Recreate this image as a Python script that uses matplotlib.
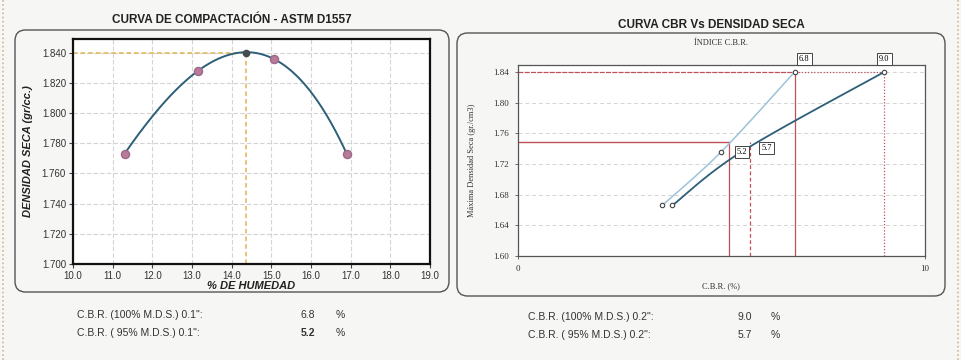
import numpy as np
import matplotlib
matplotlib.use("Agg")
import matplotlib.pyplot as plt
from matplotlib.patches import FancyBboxPatch
from matplotlib.lines import Line2D

# --- Proctor compaction data ---
humedad = [11.3, 13.15, 15.06, 16.9]
densidad = [1.773, 1.828, 1.836, 1.773]
humedad_optima = 14.37
densidad_maxima = 1.840
x_ticks_humedad = [10.0, 11.0, 12.0, 13.0, 14.0, 15.0, 16.0, 17.0, 18.0, 19.0]
y_ticks_densidad = [1.700, 1.720, 1.740, 1.760, 1.780, 1.800, 1.820, 1.840]

# --- CBR vs dry density data ---
densidad_cbr = [1.666, 1.736, 1.840]
cbr_01 = [3.55, 5.0, 6.8]
cbr_02 = [3.8, 5.5, 9.0]
cbr100_01, cbr95_01 = 6.8, 5.2
cbr100_02, cbr95_02 = 9.0, 5.7
y_ticks_cbr = [1.60, 1.64, 1.68, 1.72, 1.76, 1.80, 1.84]

BG = "#f6f6f4"
DARK = "#2d5f78"
LIGHT = "#9cc3d8"
RED = "#c0505a"
GRID = "#d4d4d4"


def smooth(xs, ys, n=40):
    """Excel-style smoothed line: cubic Bezier through the points."""
    p = np.column_stack([xs, ys]).astype(float)
    ext = np.vstack([p[0], p, p[-1]])
    out = []
    t = np.linspace(0, 1, n)[:, None]
    for i in range(1, len(ext) - 2):
        p0, p1 = ext[i], ext[i + 1]
        c1 = p0 + (ext[i + 1] - ext[i - 1]) / 6.0
        c2 = p1 - (ext[i + 2] - ext[i]) / 6.0
        seg = ((1 - t) ** 3) * p0 + 3 * ((1 - t) ** 2) * t * c1 + 3 * (1 - t) * t ** 2 * c2 + t ** 3 * p1
        out.append(seg)
    out = np.vstack(out)
    return out[:, 0], out[:, 1]


fig = plt.figure(figsize=(9.61, 3.60), dpi=100, facecolor=BG)
plt.rcParams["font.family"] = ["Liberation Sans", "DejaVu Sans"]

# page border marks
for xf in (0.003, 0.997):
    fig.add_artist(Line2D([xf, xf], [0, 1], transform=fig.transFigure,
                          color="#d8b68a", lw=1.2, ls=(0, (1, 1.5))))

# rounded frames around each chart
for (x0, y0, x1, y1) in [(15, 30, 449, 292), (457, 33, 945, 296)]:
    box = FancyBboxPatch((x0 / 961, 1 - y1 / 360), (x1 - x0) / 961, (y1 - y0) / 360,
                         boxstyle="round,pad=0,rounding_size=0.011",
                         transform=fig.transFigure, facecolor="none",
                         edgecolor="#555555", lw=1.0, mutation_aspect=961 / 360)
    fig.add_artist(box)

# ---------------- Compaction curve ----------------
ax1 = fig.add_axes([73 / 961, 1 - 264 / 360, (430 - 73) / 961, (264 - 39) / 360])
ax1.set_facecolor("white")
ax1.set_xlim(10.0, 19.0)
ax1.set_ylim(1.700, 1.849)
ax1.set_xticks(x_ticks_humedad)
ax1.set_xticklabels([f"{v:.1f}" for v in x_ticks_humedad], fontsize=7, color="#333333")
ax1.set_yticks(y_ticks_densidad)
ax1.set_yticklabels([f"{v:.3f}" for v in y_ticks_densidad], fontsize=7, color="#333333")
ax1.tick_params(axis="both", length=3, width=0.8, color="#444444", pad=2)
ax1.grid(True, color=GRID, lw=0.8, ls=(0, (4, 2)))
ax1.set_axisbelow(True)
for s in ax1.spines.values():
    s.set_color("#111111")
    s.set_linewidth(1.6)

hx = np.array(humedad + [humedad_optima])
hy = np.array(densidad + [densidad_maxima])
coef = np.polyfit(hx, hy, 3)
xs = np.linspace(min(humedad), max(humedad), 200)
ax1.plot(xs, np.polyval(coef, xs), color=DARK, lw=1.4, zorder=3)
ax1.plot([10.0, humedad_optima], [densidad_maxima, densidad_maxima], color="#e2b44e",
         lw=1.1, ls=(0, (3, 2)), zorder=2)
ax1.plot([humedad_optima, humedad_optima], [1.700, densidad_maxima], color="#e2b44e",
         lw=1.1, ls=(0, (3, 2)), zorder=2)
ax1.scatter(humedad, densidad, s=34, color="#b97a9c", edgecolor="#9a6a88", zorder=4)
ax1.scatter([humedad_optima], [densidad_maxima], s=20, color="#444c50", zorder=5)

ax1.set_xlabel("% DE HUMEDAD", fontsize=8, fontweight="bold", style="italic",
               color="#222222", labelpad=0)
ax1.set_ylabel("DENSIDAD SECA (gr/cc.)", fontsize=8, fontweight="bold", style="italic",
               color="#222222")
ax1.yaxis.set_label_coords(-0.112, 0.5)
fig.text(232 / 961, 1 - 20 / 360, "CURVA DE COMPACTACIÓN - ASTM D1557", ha="center",
         va="center", fontsize=8.5, fontweight="bold", color="#222222")

# ---------------- CBR vs dry density ----------------
ax2 = fig.add_axes([517.7 / 961, 1 - 256 / 360, (925 - 517.7) / 961, (256 - 65) / 360])
ax2.set_facecolor("white")
ax2.set_xlim(0, 10)
ax2.set_ylim(1.60, 1.849)
ax2.set_xticks([0, 10])
ax2.set_xticklabels(["0", "10"], fontsize=6.5, family="Liberation Serif", color="#333333")
ax2.set_yticks(y_ticks_cbr)
ax2.set_yticklabels([f"{v:.2f}" for v in y_ticks_cbr], fontsize=6.5,
                    family="Liberation Serif", color="#333333")
ax2.tick_params(axis="both", length=2.5, width=0.6, color="#555555", pad=4)
ax2.yaxis.grid(True, color=GRID, lw=0.7, ls=(0, (4, 3)))
ax2.set_axisbelow(True)
for s in ax2.spines.values():
    s.set_color("#555555")
    s.set_linewidth(0.9)

d95 = 0.95 * densidad_maxima
# reference lines
ax2.plot([0, cbr95_01], [d95, d95], color=RED, lw=1.0, zorder=2)
ax2.plot([cbr95_01, cbr95_01], [1.60, d95], color=RED, lw=0.9, zorder=2)
ax2.plot([cbr95_02, cbr95_02], [1.60, d95], color=RED, lw=0.9, ls=(0, (3, 2)), zorder=2)
ax2.plot([0, cbr100_01], [densidad_maxima, densidad_maxima], color=RED, lw=0.9,
         ls=(0, (4, 1)), zorder=2)
ax2.plot([cbr100_01, cbr100_01], [1.60, densidad_maxima], color=RED, lw=0.9, zorder=2)
ax2.plot([cbr100_01, cbr100_02], [densidad_maxima, densidad_maxima], color=RED, lw=0.9,
         ls=(0, (1, 1.5)), zorder=2)
ax2.plot([cbr100_02, cbr100_02], [1.60, densidad_maxima], color=RED, lw=0.9,
         ls=(0, (1, 1.5)), zorder=2)

sx, sy = smooth(cbr_01, densidad_cbr)
ax2.plot(sx, sy, color=LIGHT, lw=1.1, zorder=3)
sx, sy = smooth(cbr_02, densidad_cbr)
ax2.plot(sx, sy, color=DARK, lw=1.3, zorder=3)
ax2.plot(cbr_01, densidad_cbr, ls="none", marker="o", ms=3.2, mfc="white",
         mec="#444444", mew=0.8, zorder=4)
ax2.plot(cbr_02, densidad_cbr, ls="none", marker="o", ms=3.2, mfc="white",
         mec="#444444", mew=0.8, zorder=4)

box_kw = dict(boxstyle="square,pad=0.25", fc="white", ec="#444444", lw=0.7)
lab_kw = dict(textcoords="offset points", fontsize=6, family="Liberation Serif",
              ha="center", va="center", bbox=box_kw, zorder=6)
ax2.annotate(f"{cbr100_01:.1f}", (cbr100_01, densidad_maxima), xytext=(7, 9), **lab_kw)
ax2.annotate(f"{cbr100_02:.1f}", (cbr100_02, densidad_maxima), xytext=(0, 9), **lab_kw)
ax2.annotate(f"{cbr95_01:.1f}", (cbr95_01, d95), xytext=(9, -7), **lab_kw)
ax2.annotate(f"{cbr95_02:.1f}", (cbr95_02, d95), xytext=(12, -4), **lab_kw)

ax2.text(0.5, (256 - 43) / 191, "ÍNDICE C.B.R.", transform=ax2.transAxes, ha="center",
         va="center", fontsize=6, family="Liberation Serif", color="#333333")
ax2.set_xlabel("C.B.R. (%)", fontsize=6, family="Liberation Serif", color="#333333")
ax2.xaxis.set_label_coords(0.5, (256 - 282) / 191)
ax2.set_ylabel("Máxima Densidad Seca (gr./cm3)", fontsize=6, family="Liberation Serif",
               color="#333333")
ax2.yaxis.set_label_coords((476 - 517.7) / 407.3, 0.5)
fig.text(711 / 961, 1 - 25 / 360, "CURVA CBR Vs DENSIDAD SECA", ha="center",
         va="center", fontsize=8.5, fontweight="bold", color="#222222")

# ---------------- Summary values ----------------
txt = dict(fontsize=7.5, color="#333333", va="center")
rows = [
    (77, 315, "C.B.R. (100% M.D.S.) 0.1\":", 308, f"{cbr100_01:.1f}", "normal", 340),
    (77, 333, "C.B.R. ( 95% M.D.S.) 0.1\":", 308, f"{cbr95_01:.1f}", "bold", 340),
    (528, 317, "C.B.R. (100% M.D.S.) 0.2\":", 745, f"{cbr100_02:.1f}", "normal", 775),
    (528, 335, "C.B.R. ( 95% M.D.S.) 0.2\":", 745, f"{cbr95_02:.1f}", "normal", 775),
]
for xl, y, lab, xv, val, w, xp in rows:
    fig.text(xl / 961, 1 - y / 360, lab, ha="left", **txt)
    fig.text(xv / 961, 1 - y / 360, val, ha="center", fontweight=w, **txt)
    fig.text(xp / 961, 1 - y / 360, "%", ha="center", **txt)

fig.savefig("out.png", dpi=100, facecolor=BG)
